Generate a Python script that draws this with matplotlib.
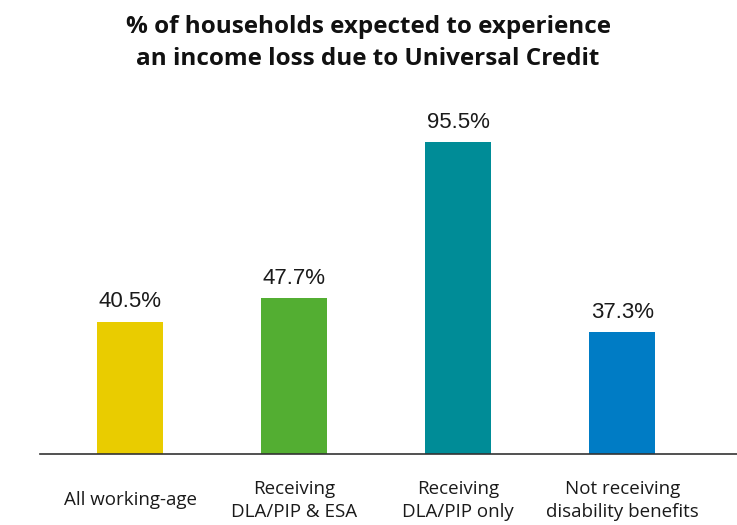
import matplotlib.pyplot as plt

categories = ["All working-age", "Receiving\nDLA/PIP & ESA", "Receiving\nDLA/PIP only",
              "Not receiving\ndisability benefits"]
values = [40.5, 47.7, 95.5, 37.3]
colors = ["#E9CC00", "#53AE32", "#008C97", "#007CC5"]

W, H = 737, 525
fig = plt.figure(figsize=(W / 100, H / 100), dpi=100)
# axes: baseline at y=454px, left edge of axis line at x=40px
ax = fig.add_axes([40 / W, (H - 454) / H, 1 - 40 / W, 354 / H])

x = range(len(values))
ax.bar(x, values, width=0.40, color=colors, zorder=2)
ax.set_xlim(-0.549, 3.70)
ax.set_ylim(0, 108.3)

for xi, v in zip(x, values):
    ax.text(xi, v + 2.8, f"{v:.1f}%", ha="center", va="bottom",
            fontsize=16, family="Liberation Sans", color="#1a1a1a")

for xi, lab in zip(x, categories):
    ax.text(xi, -14.2, lab, ha="center", va="center", fontsize=13.5,
            family="Open Sans", color="#1a1a1a", linespacing=1.3)

for s in ["top", "right", "left"]:
    ax.spines[s].set_visible(False)
ax.spines["bottom"].set_color("#333333")
ax.spines["bottom"].set_linewidth(1.2)
ax.set_xticks([])
ax.set_yticks([])

fig.text(368 / W, 1 - 43 / H,
         "% of households expected to experience\nan income loss due to Universal Credit",
         ha="center", va="center", fontsize=17.5, fontweight="bold",
         family="Open Sans", color="#111111", linespacing=1.4)

fig.savefig("out.png", dpi=100)
